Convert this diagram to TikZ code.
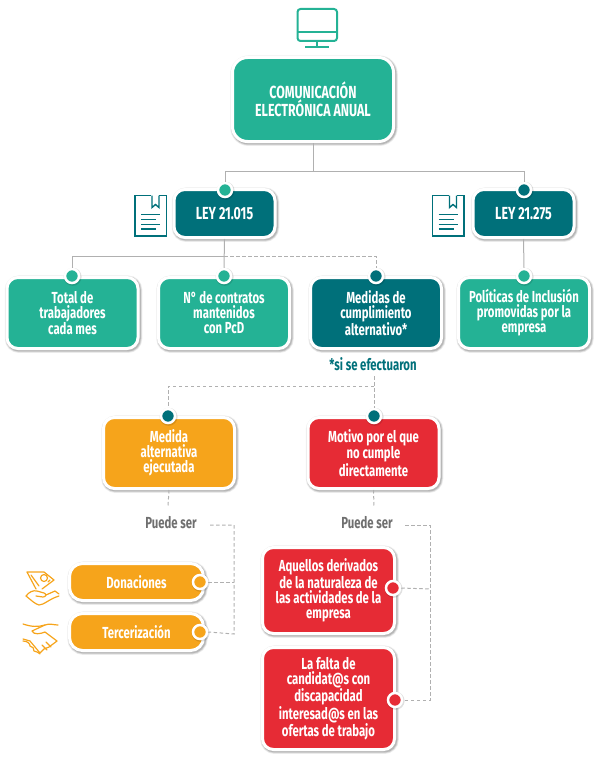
\documentclass[tikz,border=0pt]{standalone}
\usepackage{fontspec}
\setmainfont[FakeStretch=0.71]{Fira Sans Bold}
\definecolor{tealg}{HTML}{24B295}
\definecolor{teald}{HTML}{00707A}
\definecolor{orng}{HTML}{F6A41B}
\definecolor{redc}{HTML}{E62B35}
\definecolor{lineg}{HTML}{B0B0B0}
\definecolor{txtg}{HTML}{6F6F6F}
\tikzset{
  x=1pt,y=-1pt,
  softshadow/.style={
    preaction={draw=black,draw opacity=.07,line width=6.5pt,transform canvas={xshift=1pt,yshift=-1.2pt}},
    preaction={draw=black,draw opacity=.10,line width=5pt,transform canvas={xshift=1pt,yshift=-1.2pt}},
    preaction={draw=black,draw opacity=.14,line width=3.5pt,transform canvas={xshift=1pt,yshift=-1.2pt}}},
  card/.style={softshadow,draw=white,line width=3pt,rounded corners=11pt,text=white,align=center,inner sep=0pt,
    font=\fontsize{16}{15}\selectfont},
  bigcard/.style={card,font=\fontsize{17.5}{17}\selectfont},
  rowcard/.style={card,minimum width=131pt,minimum height=71pt},
  dotmark/.style={circle,draw=white,line width=2.5pt,minimum size=14pt,inner sep=0pt,
    preaction={draw=black,draw opacity=.12,line width=4pt,transform canvas={xshift=.6pt,yshift=-.8pt}}},
  conn/.style={draw=lineg,line width=1pt},
  dashconn/.style={draw=lineg,line width=1pt,dash pattern=on 3.5pt off 2.5pt},
  note/.style={font=\fontsize{16}{15}\selectfont,inner sep=0pt},
  iconT/.style={draw=tealg,line width=2pt},
  iconD/.style={draw=teald,line width=1.4pt},
  iconO/.style={draw=orng,line width=1.2pt,line cap=round,line join=round},
}
\begin{document}
\begin{tikzpicture}
\useasboundingbox (0,0) rectangle (600,768);
% monitor icon
\draw[iconT,rounded corners=3pt] (297.5,9) rectangle (337,41);
\draw[iconT] (297.5,32) -- (337,32);
\draw[iconT] (317,41) -- (317,47.5);
\draw[iconT] (305,47.5) -- (329,47.5);
% document icons
\foreach \ox in {0,297.5}{
  \begin{scope}[xshift=\ox pt]
  \draw[iconD] (151,195.5) -- (135,195.5) -- (135,236) -- (166.5,236) -- (166.5,195.5) -- (159,195.5);
  \draw[iconD] (152,195.5) -- (152,207.5) -- (155.5,204.5) -- (159,207.5) -- (159,195.5);
  \draw[iconD] (141,214.5) -- (160,214.5) (141,219.5) -- (156,219.5) (141,224.5) -- (160,224.5) (141,229) -- (156,229);
  \end{scope}
}
% donation icon
\draw[iconO] (27,572) -- (36,589) (27,572) -- (44,572) -- (54,580) -- (42,589);
\draw[iconO] (31,575) -- (39,586);
\draw[iconO] (44,578) circle (3.5pt);
\draw[iconO] (50,580) -- (48,582);
\draw[iconO] (26,596) .. controls (29,592) and (33,590) .. (37,591) -- (44,593) .. controls (47,594) and (46,597) .. (43,597) -- (36,596);
\draw[iconO] (46,595) -- (55,591) -- (59,594);
\draw[iconO] (26,596) .. controls (31,600) and (35,604) .. (39,605) .. controls (44,605) and (49,599) .. (59,596);
% handshake icon
\draw[iconO] (23,624) .. controls (32,627) and (38,627) .. (45,625) .. controls (50,623) and (53,625) .. (58,625);
\draw[iconO] (45,625) -- (32,631) .. controls (34,635) and (40,634) .. (45,632) -- (57,641);
\draw[iconO] (23,639) -- (30,641) -- (40,653) -- (44,649) -- (49,647) -- (57,641);
\draw[iconO] (23,641) .. controls (28,641) and (30,644) .. (30,646) .. controls (33,646) and (34,649) .. (34,651) .. controls (37,651) and (38,653) .. (40,654);
\draw[iconO] (42,645) -- (47,650) (46,642) -- (51,647);
% cards
\node[bigcard,fill=tealg,minimum width=161pt,minimum height=84pt,rounded corners=15pt] (main) at (313,99.5) {COMUNICACIÓN\\ELECTRÓNICA ANUAL};
\node[bigcard,fill=teald,minimum width=101pt,minimum height=48pt,rounded corners=11pt] (ley1) at (224.5,213.5) {LEY 21.015};
\node[bigcard,fill=teald,minimum width=101pt,minimum height=48pt,rounded corners=11pt] (ley2) at (523.5,213.5) {LEY 21.275};
\node[rowcard,fill=tealg] (total) at (72.5,313) {Total de\\trabajadores\\cada mes};
\node[rowcard,fill=tealg] (contr) at (224,313) {N° de contratos\\mantenidos\\con PcD};
\node[rowcard,fill=teald] (medi) at (376,313) {Medidas de\\cumplimiento\\alternativo*};
\node[rowcard,fill=tealg] (poli) at (524,313) {Políticas de Inclusión\\promovidas por la\\empresa};
\node[rowcard,fill=orng] (ejec) at (169,453) {Medida\\alternativa\\ejecutada};
\node[rowcard,fill=redc] (moti) at (373.5,453) {Motivo por el que\\no cumple\\directamente};
\node[card,fill=orng,minimum width=134pt,minimum height=37pt,rounded corners=13pt] (dona) at (136.5,582) {Donaciones};
\node[card,fill=orng,minimum width=134pt,minimum height=37pt,rounded corners=13pt] (terc) at (136.5,632) {Tercerización};
\node[card,fill=redc,minimum width=132pt,minimum height=86pt] (aque) at (328.5,590.5) {Aquellos derivados\\de la naturaleza de\\las actividades de la\\empresa};
\node[card,fill=redc,minimum width=132pt,minimum height=102pt] (falt) at (328.5,698.5) {La falta de\\candidat@s con\\discapacidad\\interesad@s en las\\ofertas de trabajo};
% labels
\node[note,text=teald] (si) at (373,364) {*si se efectuaron};
\node[note,text=txtg] (pu1) at (171,523) {Puede ser};
\node[note,text=txtg] (pu2) at (367,523) {Puede ser};
% dots
\node[dotmark,fill=tealg] (dA) at (225,190) {};
\node[dotmark,fill=teald] (dB) at (524,190) {};
\node[dotmark,fill=tealg] (dC) at (72,276) {};
\node[dotmark,fill=tealg] (dD) at (224,276) {};
\node[dotmark,fill=teald] (dE) at (376,276) {};
\node[dotmark,fill=tealg] (dF) at (524,276) {};
\node[dotmark,fill=teald] (dG) at (168,416) {};
\node[dotmark,fill=teald] (dH) at (374,416) {};
\node[dotmark,fill=orng] (dI) at (200,582) {};
\node[dotmark,fill=orng] (dJ) at (200,632) {};
\node[dotmark,fill=redc] (dK) at (393,588) {};
\node[dotmark,fill=redc] (dL) at (395,700) {};
% junctions
\coordinate (jm) at (313,171);
\coordinate (jl) at (225,171);
\coordinate (jr) at (524,171);
\coordinate (j1) at (224,256);
\coordinate (j2) at (72,256);
\coordinate (j3) at (376,256);
\coordinate (j4) at (374,386);
\coordinate (j5) at (168,386);
\coordinate (j6) at (234,525);
\coordinate (j7) at (234,582);
\coordinate (j8) at (234,634);
\coordinate (j9) at (430,525);
\coordinate (j10) at (430,589);
\coordinate (j11) at (430,700);
\coordinate (p1) at (210,525);
\coordinate (p2) at (405,525);
\coordinate (p3) at (168,506);
\coordinate (p4) at (374,506);
\coordinate (p5) at (374,376);
% connectors
\draw[conn] (main.south) -- (jm);
\draw[conn] (dA.north) -- (jl) -- (jr) -- (dB.north);
\draw[conn] (ley1.south) -- (dD.north);
\draw[conn] (j1) -- (j2) -- (dC.north);
\draw[conn] (ley2.south) -- (dF.north);
\draw[dashconn] (j1) -- (j3) -- (dE.north);
\draw[dashconn] (p5) -- (dH.north);
\draw[dashconn] (j4) -- (j5) -- (dG.north);
\draw[dashconn] (ejec.south) -- (p3);
\draw[dashconn] (moti.south) -- (p4);
\draw[dashconn] (p1) -- (j6) -- (j8) -- (dJ.east);
\draw[dashconn] (dI.east) -- (j7);
\draw[dashconn] (p2) -- (j9) -- (j11) -- (dL.east);
\draw[dashconn] (dK.east) -- (j10);
\end{tikzpicture}
\end{document}
